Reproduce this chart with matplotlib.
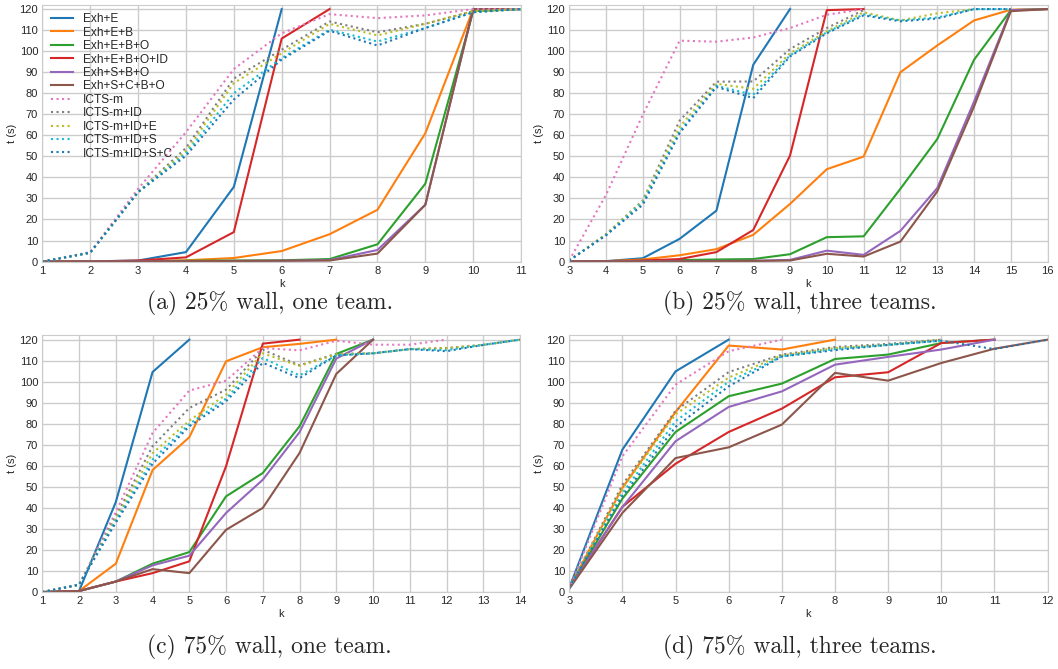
import matplotlib
matplotlib.use('Agg')
import matplotlib.pyplot as plt

labels = ['Exh+E', 'Exh+E+B', 'Exh+E+B+O', 'Exh+E+B+O+ID', 'Exh+S+B+O', 'Exh+S+C+B+O',
          'ICTS-m', 'ICTS-m+ID', 'ICTS-m+ID+E', 'ICTS-m+ID+S', 'ICTS-m+ID+S+C']
colors = ['#1f77b4', '#ff7f0e', '#2ca02c', '#d62728', '#9467bd', '#8c564b',
          '#e377c2', '#7f7f7f', '#bcbd22', '#17becf', '#1f77b4']
styles = ['-'] * 6 + [':'] * 5

# (a) 25% wall, one team -- k starts at 1
a_k0 = 1
a_vals = [
    [0, 0.1, 0.5, 4.5, 35.5, 120],
    [0, 0, 0.2, 0.6, 1.7, 5, 13, 24.6, 61, 120, 120],
    [0, 0, 0.2, 0.4, 0.5, 0.6, 1.2, 8.2, 37, 119, 120],
    [0, 0, 0.5, 2, 14, 106, 120],
    [0, 0, 0.1, 0.2, 0.3, 0.4, 0.7, 5.5, 27, 120, 120],
    [0, 0, 0.1, 0.2, 0.3, 0.4, 0.5, 3.8, 27, 120, 120],
    [0, 4.5, 34.6, 61.5, 91.5, 108.5, 117.6, 115.7, 117, 120, 120],
    [0, 4.2, 33, 54, 87, 100.7, 114.1, 109, 113, 119, 120],
    [0, 4.2, 33, 52.5, 84.8, 99, 113, 107.5, 113, 119, 120],
    [0, 4.2, 33, 51.4, 80, 96.7, 110.2, 104.6, 111, 118.5, 120],
    [0, 4.2, 33, 50.3, 77, 96, 109.7, 102.7, 111, 118.5, 120],
]

# (b) 25% wall, three teams -- k starts at 3
b_k0 = 3
b_vals = [
    [0, 0.2, 1.6, 10.8, 24.2, 93.5, 120],
    [0, 0.2, 1, 3, 5.9, 12.7, 27.4, 43.9, 49.9, 90, 102.7, 114.6, 119.7, 120],
    [0, 0.2, 0.4, 0.7, 1, 1.2, 3.5, 11.6, 12, 34.6, 58.2, 95.9, 119.5, 120],
    [0, 0.2, 0.5, 1.2, 4.5, 15, 50.4, 119.5, 120],
    [0, 0.1, 0.2, 0.3, 0.3, 0.4, 0.8, 5.2, 3.2, 14.6, 34.9, 76, 119.5, 120],
    [0, 0.1, 0.1, 0.2, 0.2, 0.3, 0.5, 3.7, 2.4, 9.5, 33.3, 73.7, 119, 120],
    [0.5, 31.7, 69.8, 105, 104.5, 106.5, 111, 117.3, 120],
    [0.5, 13, 29, 67, 85.5, 85.6, 101, 111, 119.5],
    [0.5, 13, 28.5, 64, 84.5, 82.1, 99, 109.5, 118.5, 114.6, 118, 120],
    [0.5, 12.5, 28, 62, 83.5, 79.3, 98, 109, 117.5, 114.6, 116, 120, 120],
    [0.5, 12.5, 27, 61, 83, 77.7, 97.5, 108.5, 117, 114.2, 115.5, 120, 120],
]

# (c) 75% wall, one team -- k starts at 1
c_k0 = 1
c_vals = [
    [0, 0.5, 42.8, 104.6, 120],
    [0, 0.5, 13.5, 58, 73.6, 109.7, 116.4, 118, 120],
    [0, 0.5, 5, 13.5, 19, 45.5, 56.6, 78.8, 113.2, 120],
    [0, 0.5, 5, 9, 14.6, 59.8, 118.1, 120],
    [0, 0.5, 5, 12.7, 17.3, 37.6, 53.4, 76, 111, 120],
    [0, 0.5, 5, 10.9, 9, 29.6, 40, 66.1, 103.7, 120],
    [0, 3.5, 38, 75.6, 95.8, 100.5, 116, 114.9, 119.5, 117.6, 117.6, 120],
    [0, 3.5, 36, 69.3, 87.5, 96.2, 115.2, 107.8, 113.3, 113.5, 115.5, 116, 117.5, 120],
    [0, 3.5, 35, 66, 81.5, 93.9, 113.5, 107.5, 113, 113.5, 115.5, 116, 117.5, 120],
    [0, 3.5, 34, 63, 79.9, 92, 111.3, 103, 112.5, 113.5, 115.5, 115, 117.5, 120],
    [0, 3.5, 33, 61, 78.8, 90.7, 109, 101.7, 112.5, 113.5, 115.5, 114.5, 117.5, 120],
]

# (d) 75% wall, three teams -- k starts at 3
d_k0 = 3
d_vals = [
    [2, 67.7, 104.9, 120],
    [2, 49.5, 85.6, 117.2, 115.3, 120],
    [2, 44.4, 76.1, 93.1, 99.1, 110.8, 112.9, 118.4, 120],
    [2, 40.5, 61, 76.1, 87.2, 102.1, 104.5, 118.4, 120],
    [2, 40.4, 71.7, 88, 95.4, 108.1, 111.8, 115.3, 120],
    [1.5, 37.6, 63.7, 68.8, 79.6, 104.2, 100.5, 108.9, 115.7, 120],
    [1.5, 64.5, 98.6, 114.5, 120],
    [2, 51, 86.2, 104.6, 112.9, 116.5, 118, 120],
    [2, 49, 84.5, 102, 112.5, 116, 117.5, 120],
    [2, 47, 81.2, 100, 112, 115.5, 117.5, 119.5],
    [2, 45.5, 78.5, 97.8, 112, 115, 117.5, 119.5, 115.5, 120],
]

panels = [
    (a_k0, 11, a_vals, '(a) 25% wall, one team.'),
    (b_k0, 16, b_vals, '(b) 25% wall, three teams.'),
    (c_k0, 14, c_vals, '(c) 75% wall, one team.'),
    (d_k0, 12, d_vals, '(d) 75% wall, three teams.'),
]

plt.rcParams['font.family'] = ['Liberation Sans Narrow', 'Liberation Sans', 'DejaVu Sans']
plt.rcParams['text.color'] = '#262626'
plt.rcParams['axes.labelcolor'] = '#262626'
plt.rcParams['xtick.color'] = '#262626'
plt.rcParams['ytick.color'] = '#262626'

fig = plt.figure(figsize=(10.58, 6.69), dpi=100)
positions = [
    [0.040, 0.609, 0.4525, 0.3837],
    [0.538, 0.609, 0.4522, 0.3837],
    [0.040, 0.115, 0.4515, 0.3836],
    [0.538, 0.115, 0.4522, 0.3836],
]
caption_x = [0.255, 0.756, 0.255, 0.756]
caption_y = [0.547, 0.547, 0.032, 0.032]

for i in range(len(panels)):
    k0, kmax, vals, caption = panels[i]
    ax = fig.add_axes(positions[i])
    ax.set_facecolor('white')
    for j in range(len(vals)):
        ks = list(range(k0, k0 + len(vals[j])))
        ax.plot(ks, vals[j], styles[j], color=colors[j], lw=1.5, label=labels[j])
    ax.set_xlim(k0, kmax)
    ax.set_ylim(0, 122)
    ax.set_xticks(range(k0, kmax + 1))
    ax.set_yticks(range(0, 121, 10))
    ax.grid(True, color='#cccccc', lw=1)
    ax.set_axisbelow(True)
    for s in ax.spines.values():
        s.set_color('#cccccc')
    ax.tick_params(length=0, labelsize=8, pad=3)
    ax.set_xlabel('k', fontsize=8, labelpad=2)
    ax.set_ylabel('t (s)', fontsize=8, labelpad=2)
    if i == 0:
        ax.legend(loc='upper left', frameon=False, fontsize=8.6, labelspacing=0.12,
                  handlelength=1.9, handletextpad=0.8, borderaxespad=0.3,
                  bbox_to_anchor=(0.0, 1.0))
    fig.text(caption_x[i], caption_y[i], caption,
             ha='center', va='center', fontsize=17, family=['cmr10', 'DejaVu Serif'])

fig.savefig('out.png', dpi=100)
